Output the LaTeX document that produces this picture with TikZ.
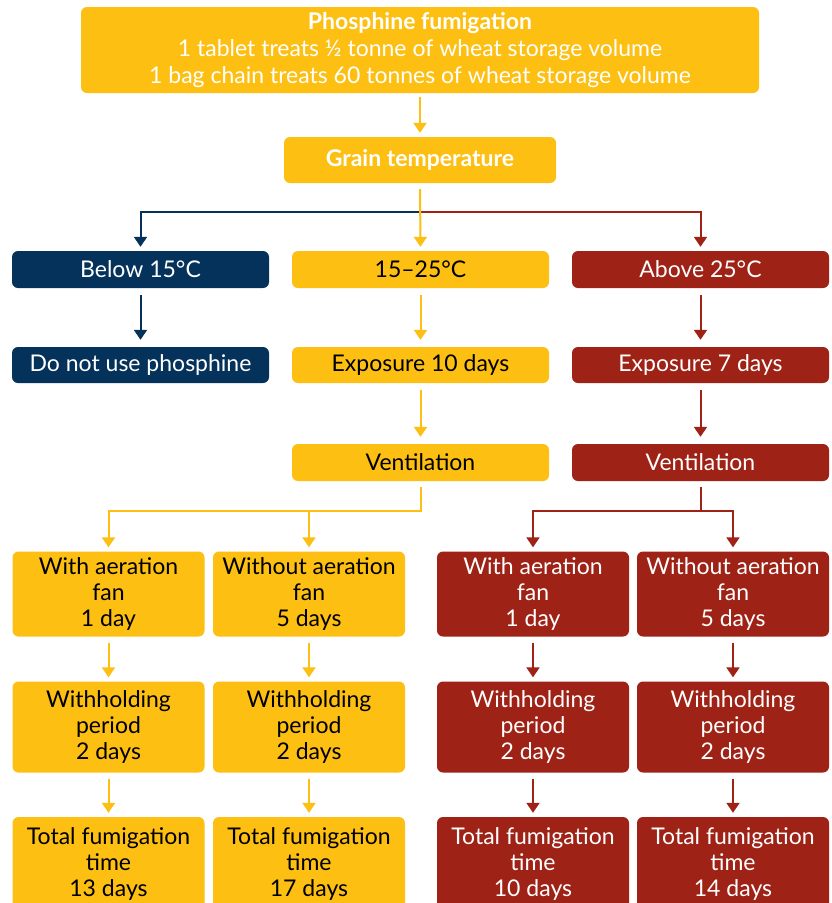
\documentclass[tikz,border=0pt]{standalone}
\usepackage{fontspec}
\setmainfont{Lato}
\usetikzlibrary{arrows.meta}
\definecolor{ylw}{HTML}{FCBF12}
\definecolor{nvy}{HTML}{04325A}
\definecolor{rd}{HTML}{9E2216}
\begin{document}
\begin{tikzpicture}[x=1pt,y=-1pt,
  bx/.style={rounded corners=6pt,inner sep=0pt,align=center,font=\fontsize{23}{26}\selectfont},
  yb/.style={bx,fill=ylw,text=black},
  nb/.style={bx,fill=nvy,text=white},
  rb/.style={bx,fill=rd,text=white},
  rowa/.style={minimum width=257pt,minimum height=37pt},
  rowb/.style={minimum width=257pt,minimum height=36pt},
  rowc/.style={minimum width=192pt,minimum height=85pt},
  rowd/.style={minimum width=192pt,minimum height=91pt},
  rowe/.style={minimum width=192pt,minimum height=93pt},
  tip/.style={-{Triangle[width=13pt,length=10pt]}},
  ya/.style={draw=ylw,line width=2pt},
  na/.style={draw=nvy,line width=2pt},
  ra/.style={draw=rd,line width=2pt}]
\useasboundingbox[fill=white] (0,0) rectangle (832,903);
\clip (0,0) rectangle (832,903);

% nodes
\node[yb,text=white,font=\fontsize{23}{27}\selectfont,minimum width=678pt,minimum height=86pt] (top) at (420,50)
  {\textbf{Phosphine fumigation}\\1 tablet treats ½ tonne of wheat storage volume\\1 bag chain treats 60 tonnes of wheat storage volume};
\node[yb,text=white,font=\fontsize{23}{26}\selectfont\bfseries,minimum width=272pt,minimum height=46pt] (grain) at (420,160) {Grain temperature};

\node[nb,rowa] (below) at (140.5,269.5) {Below 15°C};
\node[yb,rowa] (mid) at (420.5,269.5) {15–25°C};
\node[rb,rowa] (above) at (700.5,269.5) {Above 25°C};

\node[nb,rowb] (donot) at (140.5,365) {Do not use phosphine};
\node[yb,rowb] (exp10) at (420.5,365) {Exposure 10 days};
\node[rb,rowb] (exp7) at (700.5,365) {Exposure 7 days};

\node[yb,rowa] (venty) at (420.5,462.5) {Ventilation};
\node[rb,rowa] (ventr) at (700.5,462.5) {Ventilation};

\node[yb,rowc] (fa) at (108.5,594) {With aeration\\fan\\1 day};
\node[yb,rowc] (fb) at (309,594) {Without aeration\\fan\\5 days};
\node[rb,rowc] (fc) at (533,594) {With aeration\\fan\\1 day};
\node[rb,rowc] (fd) at (733,594) {Without aeration\\fan\\5 days};

\node[yb,rowd] (wa) at (108.5,727) {Withholding\\period\\2 days};
\node[yb,rowd] (wb) at (309,727) {Withholding\\period\\2 days};
\node[rb,rowd] (wc) at (533,727) {Withholding\\period\\2 days};
\node[rb,rowd] (wd) at (733,727) {Withholding\\period\\2 days};

\node[yb,rowe] (ta) at (108.5,863.5) {Total fumigation\\time\\13 days};
\node[yb,rowe] (tb) at (309,863.5) {Total fumigation\\time\\17 days};
\node[rb,rowe] (tc) at (533,863.5) {Total fumigation\\time\\10 days};
\node[rb,rowe] (td) at (733,863.5) {Total fumigation\\time\\14 days};

% connectors
\draw[ya,tip,shorten <=4pt,shorten >=4pt] (top.south) -- (grain.north);
\path (grain.south) ++(0,29) coordinate (s1);
\draw[na,tip,shorten >=4pt] (s1) -| (below.north);
\draw[ra,tip,shorten >=4pt] (s1) -| (above.north);
\draw[ya,tip,shorten <=6pt,shorten >=4pt] (grain.south) -- (mid.north);

\draw[na,tip,shorten <=7pt,shorten >=7pt] (below.south) -- (donot.north);
\draw[ya,tip,shorten <=7pt,shorten >=7pt] (mid.south) -- (exp10.north);
\draw[ra,tip,shorten <=7pt,shorten >=7pt] (above.south) -- (exp7.north);

\draw[ya,tip,shorten <=7pt,shorten >=7pt] (exp10.south) -- (venty.north);
\draw[ra,tip,shorten <=7pt,shorten >=7pt] (exp7.south) -- (ventr.north);

\path (venty.south) ++(0,30) coordinate (s2);
\path (ventr.south) ++(0,30) coordinate (s3);
\draw[ya,tip,shorten <=6pt,shorten >=4pt] (venty.south) -- (s2) -| (fa.north);
\draw[ya,tip,shorten >=4pt] (s2 -| fb.north) -- (fb.north);
\draw[ra,tip,shorten <=6pt,shorten >=4pt] (ventr.south) -- (s3) -| (fc.north);
\draw[ra,tip,shorten >=4pt] (s3) -| (fd.north);

\foreach \a/\b in {fa/wa,fb/wb,wa/ta,wb/tb}
  \draw[ya,tip,shorten <=6pt,shorten >=4pt] (\a.south) -- (\b.north);
\foreach \a/\b in {fc/wc,fd/wd,wc/tc,wd/td}
  \draw[ra,tip,shorten <=6pt,shorten >=4pt] (\a.south) -- (\b.north);
\end{tikzpicture}
\end{document}
